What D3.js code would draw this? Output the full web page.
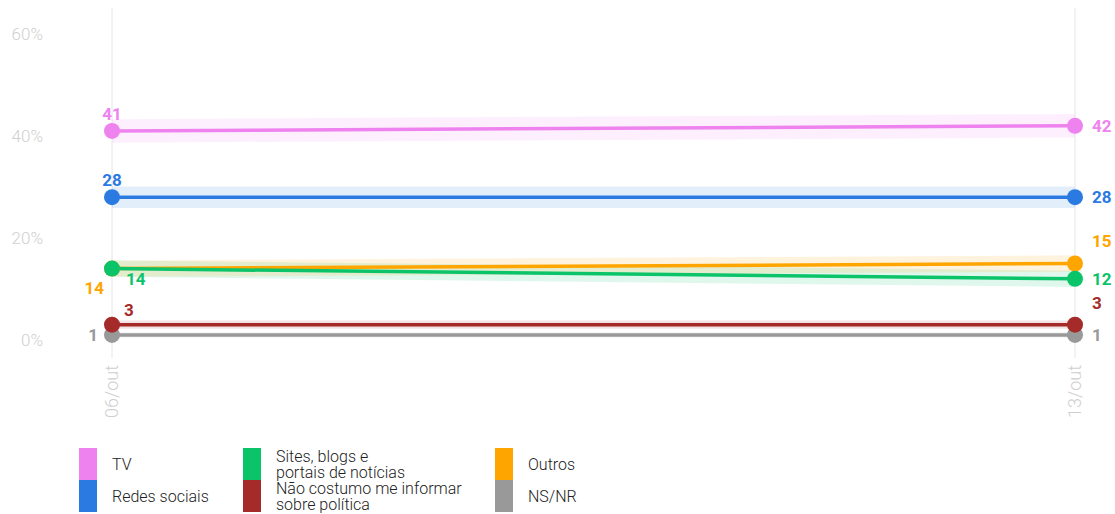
<!DOCTYPE html>
<html>
<head>
<meta charset="utf-8">
<script src="https://cdn.jsdelivr.net/npm/d3@7"></script>
<style>
  body { margin: 0; background: #fff; font-family: Roboto, sans-serif; }
  svg { display: block; }
</style>
</head>
<body>
<svg></svg>
<script>
let width = 1115;
let height = 514;

// data
let dates = ["06/out", "13/out"];
let seriesNames = ["TV", "Redes sociais", "Sites, blogs e portais de notícias", "Outros", "Não costumo me informar sobre política", "NS/NR"];
let tv = [41, 42];
let redes = [28, 28];
let sites = [14, 12];
let outros = [14, 15];
let naoCostumo = [3, 3];
let nsnr = [1, 1];
// margem de erro (pontos percentuais) aproximada de cada série
let margins = [2.3, 2.1, 1.6, 1.6, 0.8, 0.5];
let yTicks = [0, 20, 40, 60];

let colors = ["#ee82ee", "#2a7ae2", "#0bc46a", "#ffa500", "#a52a2a", "#999999"];
let allValues = [tv, redes, sites, outros, naoCostumo, nsnr];

let series = seriesNames.map((name, i) => {
  return { name: name, values: allValues[i], color: colors[i], m: margins[i] };
});

let svg = d3.select("svg")
            .attr("width", width)
            .attr("height", height);

let xScale = d3.scalePoint()
               .domain(dates)
               .range([112, 1075]);

let yScale = d3.scaleLinear()
               .domain([0, 60])
               .range([340, 34]);

// y labels (sem linhas de grade)
svg.append("g")
   .selectAll("text")
   .data(yTicks)
   .enter()
   .append("text")
   .attr("x", 43)
   .attr("y", (d) => yScale(d) + 6)
   .attr("text-anchor", "end")
   .attr("font-size", 17)
   .attr("font-weight", 300)
   .attr("fill", "#cfcfcf")
   .text((d) => d + "%");

// vertical lines at each date
svg.append("g")
   .selectAll("line")
   .data(dates)
   .enter()
   .append("line")
   .attr("x1", (d) => xScale(d))
   .attr("x2", (d) => xScale(d))
   .attr("y1", 8)
   .attr("y2", 358)
   .attr("stroke", "#e6e6e6")
   .attr("stroke-width", 1);

// x labels rotated
svg.append("g")
   .selectAll("text")
   .data(dates)
   .enter()
   .append("text")
   .attr("transform", (d) => "translate(" + (xScale(d) + 6) + ",365) rotate(-90)")
   .attr("text-anchor", "end")
   .attr("font-size", 18)
   .attr("font-weight", 300)
   .attr("fill", "#cfcfcf")
   .text((d) => d);

// bands
let area = d3.area()
             .x((d, i) => xScale(dates[i]))
             .y0((d) => yScale(d.v - d.m))
             .y1((d) => yScale(d.v + d.m));

svg.append("g")
   .selectAll("path")
   .data(series)
   .enter()
   .append("path")
   .attr("d", (s) => area(s.values.map((v) => ({ v: v, m: s.m }))))
   .attr("fill", (s) => s.color)
   .attr("fill-opacity", 0.13);

// lines
let line = d3.line()
             .x((d, i) => xScale(dates[i]))
             .y((d) => yScale(d));

let drawOrder = [5, 4, 3, 2, 1, 0];
svg.append("g")
   .selectAll("path")
   .data(drawOrder.map((i) => series[i]))
   .enter()
   .append("path")
   .attr("d", (s) => line(s.values))
   .attr("fill", "none")
   .attr("stroke", (s) => s.color)
   .attr("stroke-width", 3.5);

// dots
let dots = [];
drawOrder.forEach((i) => {
  series[i].values.forEach((v, j) => {
    dots.push({ v: v, j: j, color: series[i].color });
  });
});
svg.append("g")
   .selectAll("circle")
   .data(dots)
   .enter()
   .append("circle")
   .attr("cx", (d) => xScale(dates[d.j]))
   .attr("cy", (d) => yScale(d.v))
   .attr("r", 8)
   .attr("fill", (d) => d.color);

// labels: [dx, dy, anchor] offsets
let leftOffsets = [
  [0, -11, "middle"],
  [0, -11, "middle"],
  [14, 16, "start"],
  [-8, 25, "end"],
  [12, -9, "start"],
  [-14, 6, "end"]
];
let rightOffsets = [
  [17, 6, "start"],
  [17, 6, "start"],
  [17, 6, "start"],
  [17, -17, "start"],
  [17, -16, "start"],
  [17, 6, "start"]
];

let labels = [];
series.forEach((s, i) => {
  labels.push({ v: s.values[0], j: 0, color: s.color, o: leftOffsets[i] });
  labels.push({ v: s.values[1], j: 1, color: s.color, o: rightOffsets[i] });
});

svg.append("g")
   .selectAll("text")
   .data(labels)
   .enter()
   .append("text")
   .attr("x", (d) => xScale(dates[d.j]) + d.o[0])
   .attr("y", (d) => yScale(d.v) + d.o[1])
   .attr("text-anchor", (d) => d.o[2])
   .attr("font-size", 17)
   .attr("font-weight", "bold")
   .attr("fill", (d) => d.color)
   .text((d) => d.v);

// legend
let legendItems = [
  { col: 0, row: 0, lines: ["TV"] },
  { col: 0, row: 1, lines: ["Redes sociais"] },
  { col: 1, row: 0, lines: ["Sites, blogs e", "portais de notícias"] },
  { col: 1, row: 1, lines: ["Não costumo me informar", "sobre política"] },
  { col: 2, row: 0, lines: ["Outros"] },
  { col: 2, row: 1, lines: ["NS/NR"] }
];
let legendOrder = [0, 1, 2, 4, 3, 5];
let colX = [79, 243, 495];

let lg = svg.append("g")
            .selectAll("g")
            .data(legendItems)
            .enter()
            .append("g")
            .attr("transform", (d) => "translate(" + colX[d.col] + "," + (448 + d.row * 32) + ")");

lg.append("rect")
  .attr("width", 18)
  .attr("height", 32)
  .attr("fill", (d, i) => colors[legendOrder[i]]);

lg.append("text")
  .attr("x", 33)
  .attr("font-size", 16)
  .attr("font-weight", 300)
  .attr("fill", "#222")
  .each(function(d) {
    let t = d3.select(this);
    if (d.lines.length === 1) {
      t.append("tspan").attr("x", 33).attr("y", 22).text(d.lines[0]);
    } else {
      t.append("tspan").attr("x", 33).attr("y", 14).text(d.lines[0]);
      t.append("tspan").attr("x", 33).attr("y", 30).text(d.lines[1]);
    }
  });
</script>
</body>
</html>
